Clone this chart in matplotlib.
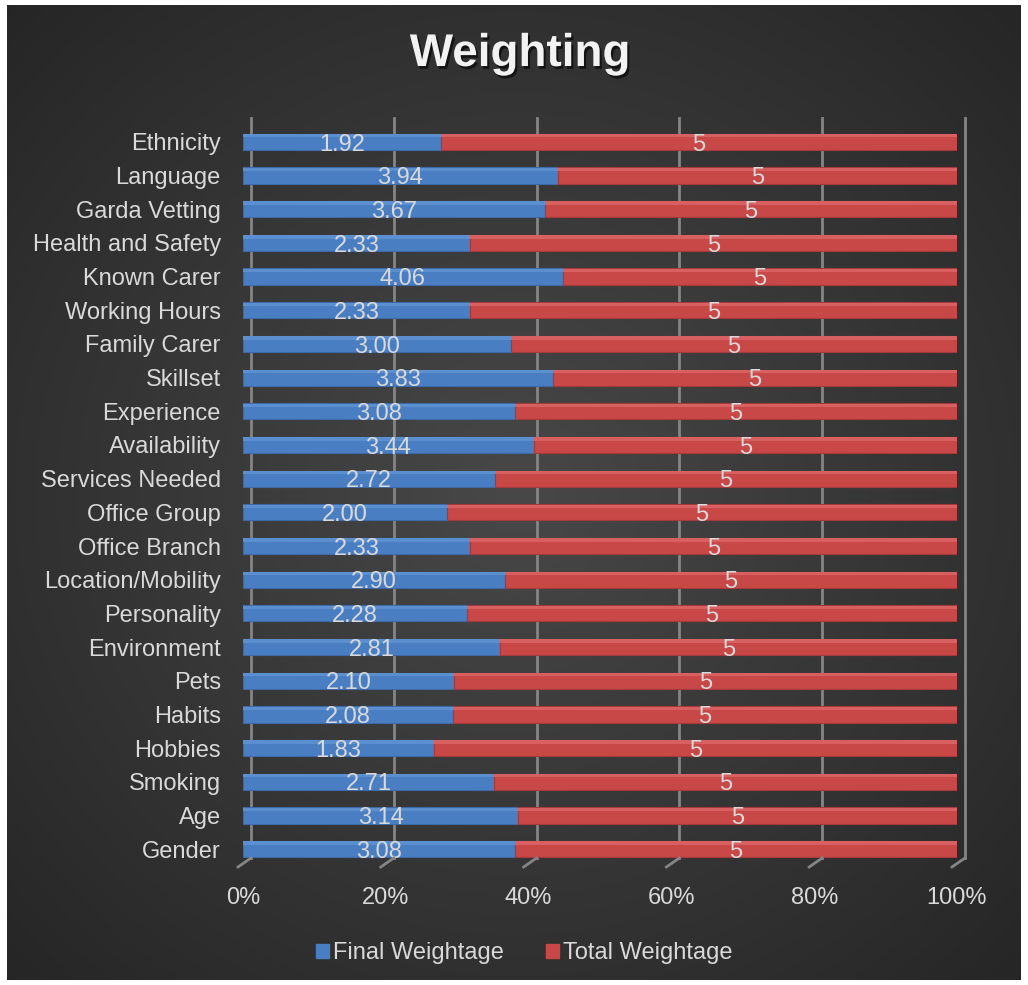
import numpy as np
import matplotlib
matplotlib.use("Agg")
import matplotlib.pyplot as plt
import matplotlib.patheffects as pe
from matplotlib.transforms import offset_copy

categories = ["Ethnicity", "Language", "Garda Vetting", "Health and Safety", "Known Carer",
              "Working Hours", "Family Carer", "Skillset", "Experience", "Availability",
              "Services Needed", "Office Group", "Office Branch", "Location/Mobility",
              "Personality", "Environment", "Pets", "Habits", "Hobbies", "Smoking", "Age", "Gender"]
final_weightage = [1.92, 3.94, 3.67, 2.33, 4.06, 2.33, 3.00, 3.83, 3.08, 3.44, 2.72,
                   2.00, 2.33, 2.90, 2.28, 2.81, 2.10, 2.08, 1.83, 2.71, 3.14, 3.08]
total_weightage = [5] * len(categories)
tick_values = [0, 0.2, 0.4, 0.6, 0.8, 1.0]
tick_labels = ["0%", "20%", "40%", "60%", "80%", "100%"]

plt.rcParams['font.family'] = ['Liberation Sans', 'DejaVu Sans']
TXT = '#d9d9d9'
BLUE = '#4a7ec2'
RED = '#c84747'

W, H = 1028, 985
fig = plt.figure(figsize=(W / 100, H / 100), dpi=100, facecolor='white')

# fond dégradé radial
bg = fig.add_axes([7 / W, 5 / H, (1021 - 7) / W, (980 - 5) / H])
yy, xx = np.mgrid[0:400, 0:420]
cx, cy = 210, 200
r = np.sqrt(((xx - cx) / 420) ** 2 + ((yy - cy) / 400) ** 2) / 0.72
r = np.clip(r, 0, 1)
c0, c1 = np.array([0x48, 0x48, 0x48]) / 255, np.array([0x25, 0x25, 0x25]) / 255
img = c0[None, None, :] * (1 - r[..., None]) + c1[None, None, :] * r[..., None]
bg.imshow(img, aspect='auto', extent=[0, 1, 0, 1])
bg.set_axis_off()

ax = fig.add_axes([243 / W, (H - 866) / H, 714 / W, 741 / H])
ax.patch.set_alpha(0)

y = np.arange(len(categories))
fw = np.array(final_weightage, dtype=float)
tw = np.array(total_weightage, dtype=float)
share_f = fw / (fw + tw)
share_t = tw / (fw + tw)

# grille "3D" en arrière-plan
tr_back = offset_copy(ax.get_xaxis_transform(), fig=fig, x=8, y=0, units='dots')
for v in tick_values:
    ax.plot([v, v], [1.009, 0.011], color='#858585', lw=2, transform=tr_back,
            clip_on=False, zorder=1)
    x0 = ax.transData.transform((v, 0))[0] + 8
    x1 = x0 - 13
    p0 = fig.transFigure.inverted().transform((x0, H - 858))
    p1 = fig.transFigure.inverted().transform((x1, H - 867))
    fig.add_artist(plt.Line2D([p0[0], p1[0]], [p0[1], p1[1]], color='#858585', lw=2,
                              transform=fig.transFigure))

bh = 0.48
ax.barh(y, share_f, height=bh, color=BLUE, edgecolor='#3d6aa6', lw=0.8, zorder=3,
        label='Final Weightage')
ax.barh(y, share_t, left=share_f, height=bh, color=RED, edgecolor='#a53a3a', lw=0.8,
        zorder=3, label='Total Weightage')
# reflet sur le dessus des barres
ax.barh(y - bh / 2 + 0.06, share_f, height=0.1, color='#5b8fd0', lw=0, zorder=4)
ax.barh(y - bh / 2 + 0.06, share_t, left=share_f, height=0.1, color='#d96060', lw=0, zorder=4)

for i in range(len(categories)):
    ax.text(share_f[i] / 2, y[i] + 0.08, f"{fw[i]:.2f}", ha='center', va='center',
            color=TXT, fontsize=17, zorder=5)
    ax.text(share_f[i] + share_t[i] / 2, y[i] + 0.08, f"{tw[i]:g}", ha='center',
            va='center', color=TXT, fontsize=17, zorder=5)

ax.set_ylim(len(categories) - 0.5, -0.5)
ax.set_xlim(0, 1)
ax.set_yticks(y)
ax.set_yticklabels(categories, color=TXT, fontsize=17)
ax.set_xticks(tick_values)
ax.set_xticklabels(tick_labels, color=TXT, fontsize=17)
ax.tick_params(axis='y', length=0, pad=16)
ax.tick_params(axis='x', length=0, pad=15)
for s in ax.spines.values():
    s.set_visible(False)

fig.text(0.506, (H - 54) / H, "Weighting", ha='center', va='center', fontsize=33,
         fontweight='bold', color='#f2f2f2',
         path_effects=[pe.withSimplePatchShadow(offset=(1.5, -2), shadow_rgbFace='black',
                                                alpha=0.6)])

h1 = plt.Rectangle((0, 0), 1, 1, color=BLUE)
h2 = plt.Rectangle((0, 0), 1, 1, color=RED)
leg = fig.legend([h1, h2], ['Final Weightage', 'Total Weightage'], loc='center',
                 bbox_to_anchor=(0.51, (H - 953) / H), ncol=2, frameon=False,
                 fontsize=17, handlelength=0.55, handleheight=0.55, handletextpad=0.15,
                 columnspacing=1.8)
for t in leg.get_texts():
    t.set_color(TXT)

fig.savefig('out.png', dpi=100, facecolor='white')
